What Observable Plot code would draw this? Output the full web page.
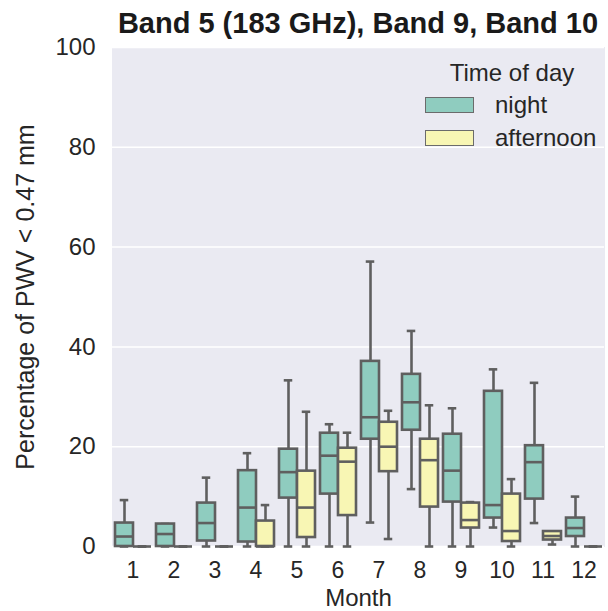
<!DOCTYPE html>
<html>
<head>
<meta charset="utf-8">
<script src="https://cdn.jsdelivr.net/npm/d3@7"></script>
<script src="https://cdn.jsdelivr.net/npm/@observablehq/plot@0.6"></script>
<style>
  body { margin: 0; background: #fff; font-family: "Liberation Sans", Arial, sans-serif; }
  #wrap { position: relative; width: 608px; height: 611px; overflow: hidden; }
  #title { height: 34px; box-sizing: border-box; padding-top: 10px; padding-left: 108px; width: 608px;
           text-align: center; font-size: 29px; line-height: 27px; font-weight: bold; color: #1a1a1a; white-space: nowrap; }
  #legend { position: absolute; left: 420px; top: 58px; width: 188px; font-size: 24px; color: #262626; }
  .ltitle { position: absolute; left: 0; width: 184px; top: 2px; text-align: center; line-height: 26px; }
  .sw { position: absolute; left: 5px; width: 47px; height: 14px; border: 1.5px solid #6b6b6b; }
  .lab { position: absolute; left: 75px; line-height: 26px; }
  #chart svg [aria-label="y-axis label"] text { font-size: 25px; }
  #chart svg [aria-label="fx-axis label"] text { font-size: 24px; }
  #chart svg [aria-label="y-axis tick label"] text { font-size: 24px; }
</style>
</head>
<body>
<div id="wrap">
  <div id="title">Band 5 (183 GHz), Band 9, Band 10</div>
  <div id="chart"></div>
  <div id="legend">
    <div class="ltitle">Time of day</div>
    <div class="sw" style="top:39px;background:#8fccbf"></div>
    <div class="lab" style="top:34px">night</div>
    <div class="sw" style="top:72px;background:#f8f6b4"></div>
    <div class="lab" style="top:67px">afternoon</div>
  </div>
</div>
<script>
const months = [1,2,3,4,5,6,7,8,9,10,11,12];
const times = ["night", "afternoon"];
const colors = ["#8fccbf", "#f8f6b4"];
const yTicks = [0, 20, 40, 60, 80, 100];

// night box statistics
const nightLo  = [0,   0,   0,   0,   0,    0,    4.8,  11.5, 0,    3.8,  4.7,  0];
const nightQ1  = [0,   0,   1.1, 0.9, 9.7,  10.5, 21.5, 23.3, 8.9,  5.7,  9.5,  2.0];
const nightMed = [2.0, 2.5, 4.7, 7.8, 14.9, 18.2, 25.9, 28.9, 15.2, 8.3,  16.9, 3.7];
const nightQ3  = [4.7, 4.5, 8.7, 15.2,19.5, 22.7, 37.1, 34.5, 22.5, 31.1, 20.2, 5.7];
const nightHi  = [9.3, 4.5, 13.8,18.7,33.3, 24.5, 57.1, 43.2, 27.7, 35.5, 32.8, 10.0];

// afternoon box statistics
const aftLo  = [0, 0, 0, 0,   0,    0,    1.5,  0,    0,   0,    0.4, 0];
const aftQ1  = [0, 0, 0, 0,   1.8,  6.2,  15.0, 7.9,  3.7, 1.0,  1.3, 0];
const aftMed = [0, 0, 0, 0,   7.8,  17.0, 20.0, 17.3, 5.3, 3.1,  2.1, 0];
const aftQ3  = [0, 0, 0, 5.1, 15.1, 19.7, 24.9, 21.5, 8.7, 10.5, 3.0, 0];
const aftHi  = [0, 0, 0, 8.3, 27.0, 22.8, 27.2, 28.3, 8.9, 13.5, 3.0, 0];

const data = [];
months.forEach((m, i) => {
  data.push({month: m, time: "night", lo: nightLo[i], q1: nightQ1[i], med: nightMed[i], q3: nightQ3[i], hi: nightHi[i]});
  data.push({month: m, time: "afternoon", lo: aftLo[i], q1: aftQ1[i], med: aftMed[i], q3: aftQ3[i], hi: aftHi[i]});
});

const lineColor = "#5f5f5f";
const lw = 2.6;

const chart = Plot.plot({
  width: 608,
  height: 577,
  marginTop: 13,
  marginBottom: 65,
  marginLeft: 108,
  marginRight: 0,
  style: {fontFamily: "Liberation Sans, Arial, sans-serif", fontSize: "23px", color: "#262626", background: "transparent", overflow: "visible"},
  fx: {domain: months, padding: 0, label: "Month", labelAnchor: "center", labelArrow: "none", tickSize: 0, tickPadding: 15, labelOffset: 59},
  x: {domain: times, paddingInner: 0, paddingOuter: 0.096, axis: null},
  y: {domain: [0, 100], ticks: yTicks, tickSize: 0, tickPadding: 17, label: "Percentage of PWV < 0.47 mm", labelAnchor: "center", labelArrow: "none", labelOffset: 96},
  color: {domain: times, range: colors},
  marks: [
    Plot.frame({fill: "#eaeaf2", stroke: "#eaeaf2"}),
    Plot.gridY(yTicks, {stroke: "#ffffff", strokeOpacity: 1, strokeWidth: 1.5}),
    Plot.ruleX(data, {fx: "month", x: "time", y1: "lo", y2: "hi", stroke: lineColor, strokeWidth: lw}),
    Plot.tickY(data, {fx: "month", x: "time", y: "lo", stroke: lineColor, strokeWidth: lw, insetLeft: 4.75, insetRight: 4.75}),
    Plot.tickY(data, {fx: "month", x: "time", y: "hi", stroke: lineColor, strokeWidth: lw, insetLeft: 4.75, insetRight: 4.75}),
    Plot.barY(data, {fx: "month", x: "time", y1: "q1", y2: "q3", fill: "time", stroke: lineColor, strokeWidth: lw}),
    Plot.tickY(data, {fx: "month", x: "time", y: "med", stroke: lineColor, strokeWidth: lw})
  ]
});
document.getElementById("chart").appendChild(chart);
</script>
</body>
</html>
